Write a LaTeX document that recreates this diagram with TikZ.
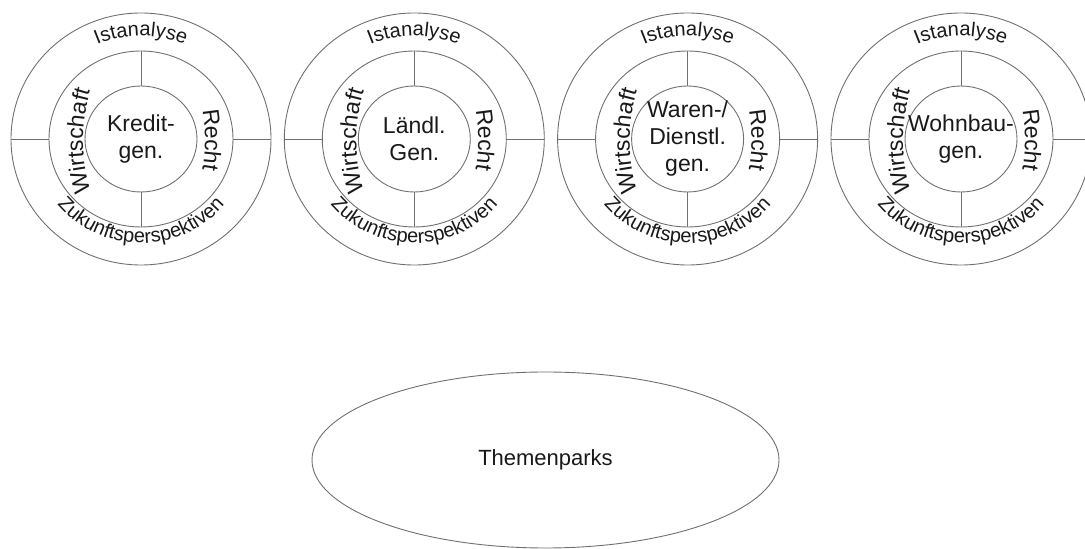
\documentclass[tikz,border=0pt]{standalone}
\usepackage{fontspec}
\setmainfont{Liberation Sans}
\usetikzlibrary{shapes.geometric,decorations.text,calc}
\definecolor{linegray}{RGB}{112,112,112}
\definecolor{txt}{RGB}{25,25,25}
\newcommand\ringfont{\fontsize{20}{20}\selectfont}
\newcommand\sidefont{\fontsize{23}{23}\selectfont}
\tikzset{
  ring/.style={ellipse, draw=linegray, line width=0.9pt, inner sep=0pt, outer sep=0pt},
  spoke/.style={draw=linegray, line width=0.9pt},
  hubtext/.style={align=center, text=txt, font=\fontsize{23}{27}\selectfont},
}
\begin{document}
\begin{tikzpicture}[x=1pt,y=1pt]
\useasboundingbox (0,0) rectangle (1085,549);
\foreach \i/\cx/\lbl in {1/141/{Kredit-\\gen.}, 2/414.3/{Ländl.\\Gen.}, 3/687.6/{Waren-/\\Dienstl.\\gen.}, 4/961/{Wohnbau-\\gen.}} {
  \node[ring, minimum width=260pt, minimum height=252pt] (o\i) at (\cx pt,410pt) {};
  \node[ring, minimum width=184pt, minimum height=176pt] (m\i) at (\cx pt,410pt) {};
  \node[ring, minimum width=112pt, minimum height=106pt] (n\i) at (\cx pt,410pt) {};
  \node[hubtext] (t\i) at (\cx pt,410pt) {\lbl};
  \draw[spoke] (o\i.west) -- (m\i.west);
  \draw[spoke] (m\i.east) -- (o\i.east);
  \draw[spoke] (m\i.north) -- (n\i.north);
  \draw[spoke] (n\i.south) -- (m\i.south);
  \path[decorate, decoration={text along path, text align=center, text color=txt, text={|\ringfont|Istanalyse}}]
    (n\i) ++(150:108pt and 103pt) arc[start angle=150, end angle=30, x radius=108pt, y radius=103pt];
  \path[decorate, decoration={text along path, text align=center, text color=txt, text={|\ringfont|Zukunftsperspektiven}}]
    (n\i) ++(200:108pt and 104pt) arc[start angle=200, end angle=340, x radius=108pt, y radius=104pt];
  \path[decorate, decoration={text along path, text align=center, text color=txt, text={|\sidefont|Wirtschaft}}]
    ($(n\i)+(112pt,-2pt)+(200:170pt)$) arc[start angle=200, end angle=160, radius=170pt];
  \path[decorate, decoration={text along path, text align=center, text color=txt, text={|\sidefont|Recht}}]
    ($(n\i)+(-106pt,-1pt)+(15:170pt)$) arc[start angle=15, end angle=-15, radius=170pt];
}
\node[ellipse, draw=linegray, line width=0.9pt, inner sep=0pt, minimum width=467pt, minimum height=176pt] (tp) at (545.5pt,89pt) {};
\node[text=txt, font=\fontsize{22}{22}\selectfont] (tpl) at (tp.center) {Themenparks};
\end{tikzpicture}
\end{document}
